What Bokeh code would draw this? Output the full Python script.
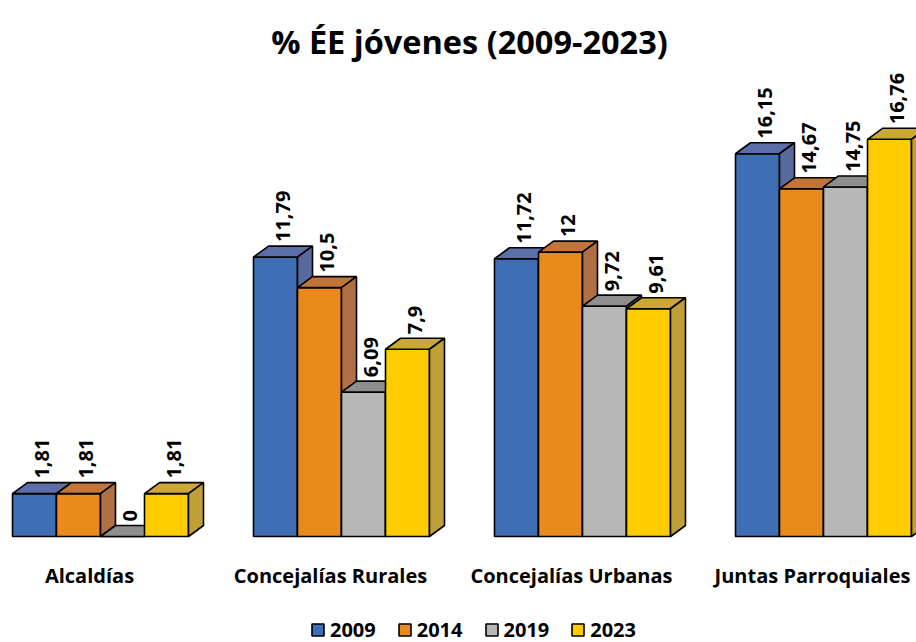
import math
from bokeh.plotting import figure
from bokeh.models import Range1d, ColumnDataSource, Label, LabelSet, Legend, LegendItem
from bokeh.core.properties import value
from bokeh.embed import file_html
from bokeh.resources import INLINE

# ---- data ----
categories = ["Alcaldías", "Concejalías Rurales", "Concejalías Urbanas", "Juntas Parroquiales"]
years = ["2009", "2014", "2019", "2023"]
v2009 = [1.81, 11.79, 11.72, 16.15]
v2014 = [1.81, 10.5, 12, 14.67]
v2019 = [0, 6.09, 9.72, 14.75]
v2023 = [1.81, 7.9, 9.61, 16.76]
series = [v2009, v2014, v2019, v2023]

# ---- style ----
front_colors = ["#3F6EB4", "#E98B1C", "#B7B7B7", "#FFCC00"]
top_colors = ["#5D6FA8", "#C2753A", "#8E8E8E", "#CBA836"]
side_colors = ["#58699D", "#B06F45", "#888888", "#BFA036"]
FONT = "Open Sans"

W, H = 916, 642
PX_X = 241.0     # pixels per category unit
PX_Y = 23.7      # pixels per value unit
BASE = 536.0     # pixel row of value 0 (from top)
x0 = 0.5 - 100.0 / PX_X
bw = 44.0 / PX_X
dx = 15.0 / PX_X
dy = 11.0 / PX_Y

p = figure(width=W, height=H, output_backend="svg", toolbar_location=None,
           x_range=Range1d(x0, x0 + W / PX_X),
           y_range=Range1d(-(H - BASE) / PX_Y, BASE / PX_Y),
           x_axis_location=None, y_axis_location=None, min_border=0)
p.grid.visible = False
p.outline_line_color = None
p.background_fill_color = "white"
p.border_fill_color = "white"

legend_items = []
for j, vals in enumerate(series):
    lefts = [i + 0.5 - 2 * bw + j * bw for i in range(len(categories))]
    rights = [l + bw for l in lefts]
    src = ColumnDataSource(dict(left=lefts, right=rights, top=vals, bottom=[0] * len(vals)))
    fr = p.quad(left="left", right="right", top="top", bottom="bottom", source=src,
                fill_color=front_colors[j], line_color="black", line_width=1.6)
    txs = [[l, r, r + dx, l + dx] for l, r in zip(lefts, rights)]
    tys = [[v, v, v + dy, v + dy] for v in vals]
    p.patches(txs, tys, fill_color=top_colors[j], line_color="black", line_width=1.6)
    sxs = [[r, r, r + dx, r + dx] for r in rights]
    sys_ = [[0, v, v + dy, dy] for v in vals]
    p.patches(sxs, sys_, fill_color=side_colors[j], line_color="black", line_width=1.6)
    legend_items.append(LegendItem(label=years[j], renderers=[fr]))

    lab_src = ColumnDataSource(dict(
        x=[l + bw / 2 + dx / 2 for l in lefts],
        y=[v + dy for v in vals],
        t=[f"{v:g}".replace(".", ",") for v in vals]))
    p.add_layout(LabelSet(x="x", y="y", text="t", source=lab_src, angle=math.pi / 2,
                          text_align="left", text_baseline="middle", y_offset=4,
                          text_font=value(FONT), text_font_style="bold",
                          text_font_size="20px", text_color="black"))

cat_src = ColumnDataSource(dict(x=[i + 0.5 for i in range(len(categories))],
                                y=[H - 582] * len(categories), t=categories))
p.add_layout(LabelSet(x="x", y="y", text="t", source=cat_src, y_units="screen",
                      x_offset=-11, text_align="center", text_baseline="alphabetic",
                      text_font=value(FONT), text_font_style="bold", text_font_size="20px",
                      text_color="black"))

p.add_layout(Label(x=469, y=H - 41, x_units="screen", y_units="screen",
                   text="% ÉE jóvenes (2009-2023)", text_align="center",
                   text_baseline="alphabetic", text_font=FONT, text_font_style="bold",
                   text_font_size="32.5px", text_color="black"))

legend = Legend(items=legend_items, orientation="horizontal", location=(310, -1),
                glyph_width=15, glyph_height=15, label_standoff=5, spacing=21,
                padding=0, margin=0, border_line_color=None, background_fill_alpha=0,
                label_text_font=FONT, label_text_font_style="bold",
                label_text_font_size="20px", label_text_color="black")
p.add_layout(legend)

open("out.html", "w").write(file_html(p, INLINE))
